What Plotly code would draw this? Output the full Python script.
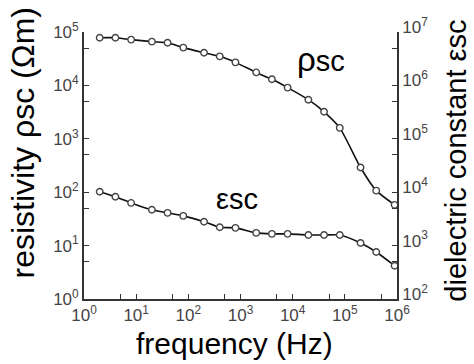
import plotly.graph_objects as go

# ---- data ----
freq_hz = [2, 4, 8, 20, 40, 80, 200, 400, 800, 2e3, 4e3, 8e3, 2e4, 4e4, 8e4, 2e5, 4e5, 9e5]
rho_sc = [7.8e4, 7.8e4, 7.2e4, 6.6e4, 6.3e4, 5.1e4, 4.1e4, 3.5e4, 2.7e4, 1.75e4, 1.3e4, 9.1e3,
          5.4e3, 3.2e3, 1.6e3, 2.9e2, 1.07e2, 58]
eps_sc = [1.02e4, 8.2e3, 6.3e3, 4.7e3, 4.1e3, 3.6e3, 2.8e3, 2.2e3, 2.15e3, 1.73e3, 1.66e3, 1.66e3,
          1.58e3, 1.58e3, 1.58e3, 1.12e3, 7.6e2, 4.2e2]

x_ticks = [1, 10, 100, 1e3, 1e4, 1e5, 1e6]
x_ticktext = ["10<sup>0</sup>", "10<sup>1</sup>", "10<sup>2</sup>", "10<sup>3</sup>",
              "10<sup>4</sup>", "10<sup>5</sup>", "10<sup>6</sup>"]
y_ticks = [1, 10, 100, 1e3, 1e4, 1e5]
y_ticktext = ["10<sup>0</sup>", "10<sup>1</sup>", "10<sup>2</sup>", "10<sup>3</sup>",
              "10<sup>4</sup>", "10<sup>5</sup>"]
y2_ticks = [1e2, 1e3, 1e4, 1e5, 1e6, 1e7]
y2_ticktext = ["10<sup>2</sup>", "10<sup>3</sup>", "10<sup>4</sup>", "10<sup>5</sup>",
               "10<sup>6</sup>", "10<sup>7</sup>"]
x_minor = [5, 50, 500, 5e3, 5e4, 5e5]
y_minor = [5, 50, 500, 5e3, 5e4]
y2_minor = [5e2, 5e3, 5e4, 5e5, 5e6]

FONT = "Liberation Sans, Arial, sans-serif"
AX = "#333333"
TICKC = "#444444"

line_style = dict(color="#111111", width=1.6, shape="spline", smoothing=0.6)
marker_style = dict(symbol="circle", size=6.5, color="white",
                    line=dict(color="#444444", width=1.4))

fig = go.Figure()
fig.add_trace(go.Scatter(x=freq_hz, y=rho_sc, mode="lines+markers",
                         line=line_style, marker=marker_style, yaxis="y", showlegend=False))
fig.add_trace(go.Scatter(x=freq_hz, y=eps_sc, mode="lines+markers",
                         line=line_style, marker=marker_style, yaxis="y2", showlegend=False))

common_axis = dict(type="log", showgrid=False, zeroline=False, showline=True,
                   linecolor=AX, linewidth=1.8, ticks="inside", ticklen=5,
                   tickcolor=AX, tickwidth=1.4, tickmode="array",
                   tickfont=dict(family=FONT, size=17, color=TICKC))

fig.update_layout(
    width=474, height=364,
    margin=dict(l=84, r=77, t=32, b=65),
    paper_bgcolor="white", plot_bgcolor="white",
    xaxis=dict(common_axis, range=[0, 6], tickvals=x_ticks, ticktext=x_ticktext,
               minor=dict(tickmode="array", tickvals=x_minor, ticks="inside", ticklen=5,
                          tickcolor=AX, tickwidth=1.2)),
    yaxis=dict(common_axis, range=[0, 5], tickvals=y_ticks, ticktext=y_ticktext,
               minor=dict(tickmode="array", tickvals=y_minor, ticks="inside", ticklen=5,
                          tickcolor=AX, tickwidth=1.2)),
    yaxis2=dict(common_axis, range=[2, 7], tickvals=y2_ticks, ticktext=y2_ticktext,
                overlaying="y", side="right", ticklabelshift=-5,
                minor=dict(tickmode="array", tickvals=y2_minor, ticks="inside", ticklen=5,
                           tickcolor=AX, tickwidth=1.2)),
    annotations=[
        dict(text="resistivity ρsc (Ωm)", xref="paper", yref="paper", x=-0.196, y=0.585,
             textangle=-90, showarrow=False, xanchor="center", yanchor="middle",
             font=dict(family=FONT, size=32, color="#000")),
        dict(text="dielectric constant εsc", xref="paper", yref="paper", x=1.19, y=0.52,
             textangle=-90, showarrow=False, xanchor="center", yanchor="middle",
             font=dict(family=FONT, size=29, color="#000")),
        dict(text="frequency (Hz)", xref="paper", yref="paper", x=0.482, y=-0.165,
             showarrow=False, xanchor="center", yanchor="middle",
             font=dict(family=FONT, size=30, color="#000")),
        dict(text="<span style='font-size:33px'>ρ</span>sc", xref="paper", yref="paper",
             x=0.758, y=0.896, showarrow=False, xanchor="center", yanchor="middle",
             font=dict(family=FONT, size=29, color="#000")),
        dict(text="εsc", xref="paper", yref="paper",
             x=0.49, y=0.375, showarrow=False, xanchor="center", yanchor="middle",
             font=dict(family=FONT, size=29, color="#000")),
    ],
)

fig.write_html("out.html", config={"displayModeBar": False},
               post_script="document.body.style.margin='0';document.body.style.padding='0';")
